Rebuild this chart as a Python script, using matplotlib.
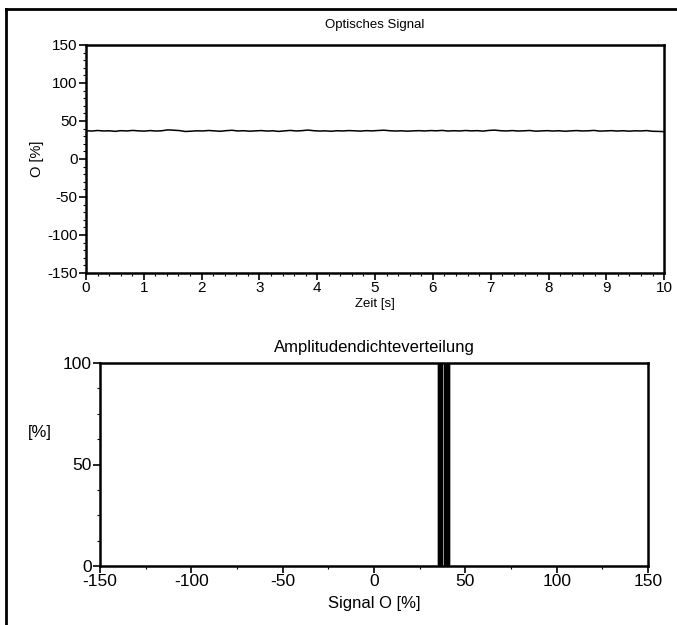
import numpy as np
import matplotlib
matplotlib.use('Agg')
from matplotlib import pyplot as plt
from matplotlib.lines import Line2D
from matplotlib.ticker import MultipleLocator

plt.rcParams['font.family'] = ['Liberation Sans', 'DejaVu Sans']
plt.rcParams['axes.unicode_minus'] = False

# optical signal O [%] over time (roughly flat near 37)
signal_o = [37.2, 36.8, 37.5, 36.9, 37.1, 36.4, 37.3, 36.9, 37.6, 37.0,
            36.7, 37.4, 36.8, 37.2, 38.3, 37.9, 37.4, 36.2, 36.6, 37.1,
            36.9, 37.5, 37.0, 36.5, 37.3, 37.8, 36.9, 37.2, 36.6, 37.0,
            37.4, 36.8, 37.1, 36.3, 37.0, 37.6, 36.9, 37.3, 38.1, 37.2,
            36.8, 37.0, 36.5, 37.2, 36.9, 37.4, 37.1, 36.7, 37.3, 37.0,
            37.5, 37.9, 37.2, 36.8, 37.1, 36.6, 37.0, 37.3, 36.9, 37.4,
            37.1, 37.6, 36.8, 37.2, 36.9, 37.5, 37.0, 37.3, 36.7, 37.6,
            38.0, 37.2, 36.9, 37.4, 36.8, 37.1, 37.5, 36.6, 37.0, 37.3,
            36.8, 37.2, 36.5, 37.0, 37.4, 36.9, 37.1, 37.6, 36.7, 37.0,
            37.3, 36.8, 37.2, 36.6, 37.1, 36.9, 37.4, 36.5, 36.3, 36.0]
t_end = 10.0

# amplitude distribution: bins [%] and heights [%] (clipped at the top)
hist_bins = [34.5, 38.0]
hist_width = 3.5
hist_heights = [100, 100]

fig = plt.figure(figsize=(6.77, 6.25), dpi=100)

# page frame (top and left edge)
fig.add_artist(Line2D([6/677, 6/677], [0, 1 - 9/625], transform=fig.transFigure,
                      color='black', lw=2))
fig.add_artist(Line2D([6/677, 1], [1 - 9/625, 1 - 9/625], transform=fig.transFigure,
                      color='black', lw=2))

# --- top: optical signal
ax1 = fig.add_axes([0.127, 0.5632, 0.854, 0.3648])
t = np.linspace(0, t_end, len(signal_o))
ax1.plot(t, signal_o, color='black', lw=1.1)
ax1.set_xlim(0, 10)
ax1.set_ylim(-150, 150)
ax1.set_xticks(range(0, 11))
ax1.set_yticks(range(-150, 151, 50))
ax1.xaxis.set_minor_locator(MultipleLocator(0.2))
ax1.yaxis.set_minor_locator(MultipleLocator(10))
ax1.tick_params(which='major', direction='out', length=5, width=1.2, labelsize=11, pad=1)
ax1.tick_params(which='minor', direction='out', length=2.5, width=0.8)
for s in ax1.spines.values():
    s.set_linewidth(1.8)
ax1.set_title('Optisches Signal', fontsize=9.5, pad=12)
ax1.set_xlabel('Zeit [s]', fontsize=9.5, labelpad=2)
ax1.set_ylabel('O [%]', fontsize=10.5, labelpad=2)

# --- bottom: amplitude density
ax2 = fig.add_axes([0.1477, 0.0944, 0.8095, 0.3248])
ax2.bar(hist_bins, hist_heights, width=hist_width, align='edge',
        color='black', edgecolor='#cccccc', linewidth=0.4)
ax2.set_xlim(-150, 150)
ax2.set_ylim(0, 100)
ax2.set_xticks(range(-150, 151, 50))
ax2.set_yticks([0, 50, 100])
ax2.xaxis.set_minor_locator(MultipleLocator(25))
ax2.yaxis.set_minor_locator(MultipleLocator(12.5))
ax2.tick_params(which='major', direction='out', length=5, width=1.2, labelsize=12.5, pad=1)
ax2.tick_params(which='minor', direction='out', length=2.5, width=0.8)
for s in ax2.spines.values():
    s.set_linewidth(1.8)
ax2.set_title('Amplitudendichteverteilung', fontsize=12, pad=8)
ax2.set_xlabel('Signal O [%]', fontsize=12, labelpad=5)
fig.text(40/677, 1 - 433/625, '[%]', fontsize=12, ha='center', va='center')

fig.savefig('out.png', dpi=100)
